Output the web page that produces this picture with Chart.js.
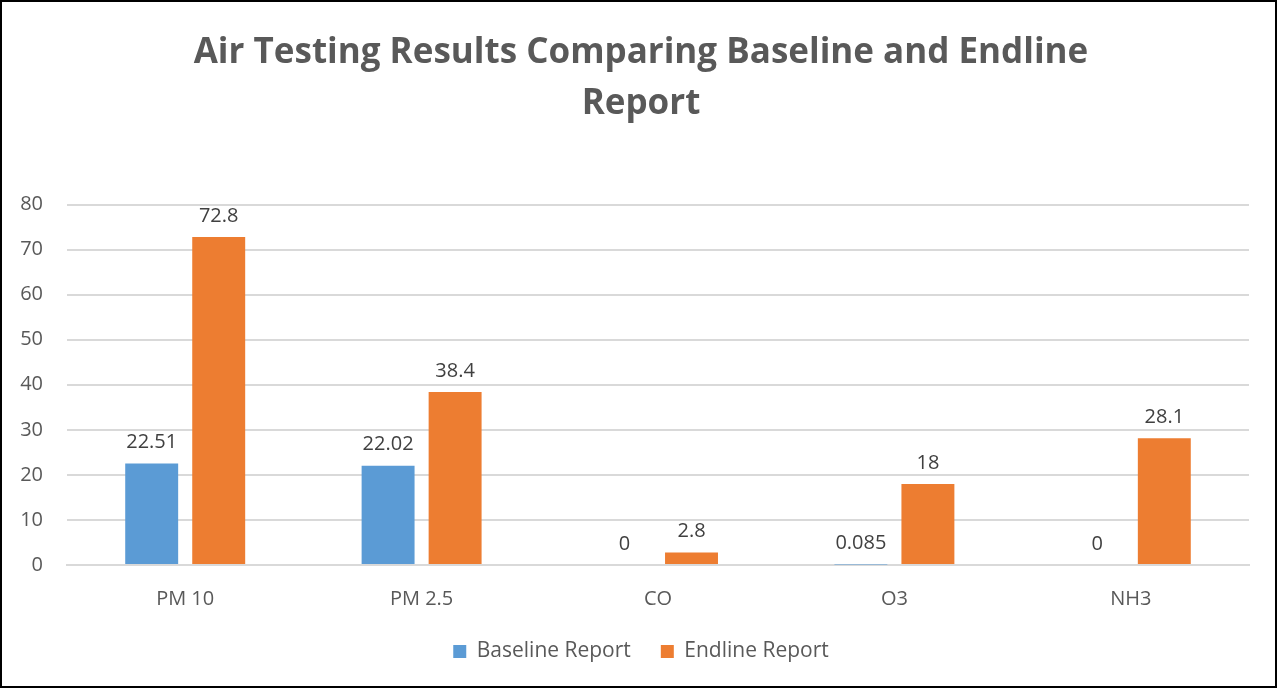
<!DOCTYPE html>
<html>
<head>
<meta charset="utf-8">
<script src="https://cdn.jsdelivr.net/npm/chart.js@4.4.1/dist/chart.umd.min.js"></script>
<style>
  html, body { margin: 0; padding: 0; background: #fff; }
  #wrap { position: relative; width: 1277px; height: 688px; box-sizing: border-box; border: 2px solid #000; }
  #chart { display: block; }
</style>
</head>
<body>
<div id="wrap"><canvas id="chart" width="1273" height="684"></canvas></div>
<script>
  var categories = ['PM 10', 'PM 2.5', 'CO', 'O3', 'NH3'];
  var baseline = [22.51, 22.02, 0, 0.085, 0];
  var endline = [72.8, 38.4, 2.8, 18, 28.1];
  var baselineLabels = ['22.51', '22.02', '0', '0.085', '0'];
  var endlineLabels = ['72.8', '38.4', '2.8', '18', '28.1'];

  var FONT = "'Open Sans', 'Liberation Sans', sans-serif";

  // simple value labels above each bar (no datalabels plugin offline)
  var barLabels = {
    id: 'barLabels',
    afterDatasetsDraw: function(chart) {
      var ctx = chart.ctx;
      ctx.save();
      ctx.font = '20px ' + FONT;
      ctx.fillStyle = '#404040';
      ctx.textAlign = 'center';
      ctx.textBaseline = 'bottom';
      chart.data.datasets.forEach(function(ds, i) {
        var meta = chart.getDatasetMeta(i);
        meta.data.forEach(function(bar, j) {
          ctx.fillText(ds.labelText[j], bar.x, bar.y - 11);
        });
      });
      ctx.restore();
    }
  };

  new Chart(document.getElementById('chart'), {
    type: 'bar',
    plugins: [barLabels],
    data: {
      labels: categories,
      datasets: [{
        label: 'Baseline Report',
        data: baseline,
        labelText: baselineLabels,
        backgroundColor: '#5b9bd5',
        categoryPercentage: 0.567,
        barPercentage: 0.79
      }, {
        label: 'Endline Report',
        data: endline,
        labelText: endlineLabels,
        backgroundColor: '#ed7d31',
        categoryPercentage: 0.567,
        barPercentage: 0.79
      }]
    },
    options: {
      responsive: false,
      animation: false,
      layout: { padding: { left: 5, right: 0, top: 20, bottom: 14 } },
      plugins: {
        title: {
          display: true,
          text: ['Air Testing Results Comparing Baseline and Endline', 'Report'],
          color: '#595959',
          font: { family: FONT, size: 35, weight: 'bold', lineHeight: 1.45 },
          padding: { top: 6, bottom: 75 }
        },
        legend: {
          position: 'bottom',
          labels: {
            color: '#595959',
            font: { family: FONT, size: 21 },
            boxWidth: 13,
            boxHeight: 13,
            padding: 30
          }
        },
        tooltip: { enabled: false }
      },
      scales: {
        x: {
          grid: { display: false },
          border: { display: true, color: '#d9d9d9', width: 2 },
          ticks: { color: '#595959', font: { family: FONT, size: 20 }, padding: 14 },
          afterFit: function(scale) { scale.height -= 14; }
        },
        y: {
          min: 0,
          max: 80,
          ticks: { stepSize: 10, color: '#595959', font: { family: FONT, size: 20 }, padding: 24 },
          grid: { color: '#d9d9d9', lineWidth: 2, drawTicks: false },
          border: { display: false },
          afterFit: function(scale) { scale.width = 60; }
        },
        // empty right-hand spacer so the plot ends where the reference does
        spacer: {
          type: 'linear',
          position: 'right',
          grid: { display: false },
          ticks: { display: false },
          border: { display: false },
          afterFit: function(scale) { scale.width = 26; }
        }
      }
    }
  });
</script>
</body>
</html>
